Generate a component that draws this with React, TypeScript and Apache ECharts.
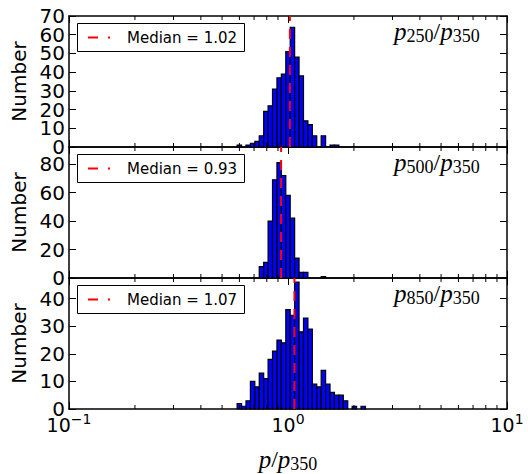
import React, { useEffect, useRef } from 'react';
import * as echarts from 'echarts';

// Histogram bins: np.logspace(-1, 1, 100) edges; bin 49 is centred on 1.0
const BIN_EDGE_COUNT = 100;
const CENTER_BIN = 49;

// counts per bin, starting at bin offset (relative to the bin centred on 1.0)
const panel1Start = -11;
const panel1Counts = [1, 0, 1, 2, 3, 6, 19, 22, 31, 37, 39, 51, 64, 48, 38, 14, 12, 6, 0, 6, 0, 1, 1];
const panel2Start = -6;
const panel2Counts = [8, 11, 40, 69, 81, 72, 58, 42, 14, 4, 4, 0, 0, 0, 1];
const panel3Start = -11;
const panel3Counts = [2, 1, 3, 10, 8, 13, 11, 18, 21, 25, 24, 36, 34, 46, 28, 33, 29, 9, 8, 14, 9, 6, 5, 5, 3, 0, 1, 0, 1];

const medians = [1.02, 0.93, 1.07];
const medianLabels = ['Median = 1.02', 'Median = 0.93', 'Median = 1.07'];
const ratioNumerators = ['250', '500', '850'];
const ratioDenominator = '350';
const yMaxes = [70, 92, 47.5];
const yIntervals = [10, 20, 10];
const ySplitLabels = [true, false, false]; // tightly packed labels drawn on two stacked axes
const minorTickValues = [0.2, 0.3, 0.4, 0.5, 0.6, 0.7, 0.8, 0.9, 2, 3, 4, 5, 6, 7, 8, 9];
const yAxisTitle = 'Number';

const GRID_LEFT = 69;
const GRID_WIDTH = 438;
const GRID_TOPS = [16, 147, 278];
const GRID_HEIGHT = 131;
const SANS = 'DejaVu Sans';
const SERIF = 'Liberation Serif';

const binEdge = (k: number) => Math.pow(10, -1 + (2 * k) / (BIN_EDGE_COUNT - 1));
const buildBins = (start: number, counts: number[]) =>
  counts.map((c, i) => {
    const k = CENTER_BIN + start + i;
    return [binEdge(k), binEdge(k + 1), c];
  });

const panels = [
  buildBins(panel1Start, panel1Counts),
  buildBins(panel2Start, panel2Counts),
  buildBins(panel3Start, panel3Counts),
];

const mathRich = {
  p: { fontFamily: SERIF, fontStyle: 'italic', fontSize: 25, lineHeight: 28, color: '#000', fill: '#000' },
  sl: { fontFamily: SERIF, fontSize: 24, lineHeight: 28, color: '#000', fill: '#000' },
  s: { fontFamily: SERIF, fontSize: 18, lineHeight: 18, verticalAlign: 'bottom', color: '#000', fill: '#000' },
};

const axisLineStyle = { show: true, onZero: false, lineStyle: { color: '#000', width: 1.5 } };
const tickStyle = { show: true, inside: true, length: 7, lineStyle: { color: '#000', width: 1 } };

export default function App() {
  const ref = useRef<HTMLDivElement>(null);
  useEffect(() => {
    if (!ref.current) return;
    const chart = echarts.init(ref.current, undefined, { renderer: 'svg' });
    const grid: any[] = [];
    const xAxis: any[] = [];
    const yAxis: any[] = [];
    const series: any[] = [];
    const graphic: any[] = [];

    panels.forEach((bins, i) => {
      const top = GRID_TOPS[i];
      const yMax = yMaxes[i];
      const step = yIntervals[i];
      grid.push({ left: GRID_LEFT, top, width: GRID_WIDTH, height: GRID_HEIGHT, containLabel: false });
      const isLast = i === panels.length - 1;
      const xIdx = xAxis.length;
      xAxis.push({
        type: 'log', logBase: 10, min: 0.1, max: 10, gridIndex: i, position: 'bottom',
        axisLine: axisLineStyle, axisTick: tickStyle, splitLine: { show: false },
        axisLabel: isLast
          ? {
              show: true, margin: 3, color: '#000', hideOverlap: false,
              formatter: (v: number) => {
                const e = Math.round(Math.log10(v));
                return `{b|10}{s|${e < 0 ? '\u2212' + -e : e}}`;
              },
              rich: {
                b: { fontFamily: SANS, fontSize: 19, lineHeight: 22, verticalAlign: 'bottom', color: '#000' },
                s: { fontFamily: SANS, fontSize: 14, lineHeight: 14, padding: [0, 0, 15, 0], verticalAlign: 'top', color: '#000' },
              },
            }
          : { show: false },
        name: isLast ? `{p|p}{sl|/}{p|p}{s|${ratioDenominator}}` : '',
        nameLocation: 'middle', nameGap: 36, nameTextStyle: { rich: mathRich },
      });
      xAxis.push({
        type: 'log', logBase: 10, min: 0.1, max: 10, gridIndex: i, position: 'top',
        axisLine: axisLineStyle, axisTick: tickStyle,
        axisLabel: { show: false }, splitLine: { show: false },
      });

      const labelStyle = { show: true, margin: 4, color: '#000', fontFamily: SANS, fontSize: 20, hideOverlap: false };
      const yIdx = yAxis.length;
      // main left axis: ticks, line, title and (every other when split) labels
      yAxis.push({
        type: 'value', min: 0, max: yMax, interval: step, gridIndex: i, position: 'left',
        axisLine: axisLineStyle, axisTick: tickStyle, splitLine: { show: false },
        axisLabel: {
          ...labelStyle, showMinLabel: true, showMaxLabel: i === 0,
          formatter: (v: number) => (ySplitLabels[i] && v % (2 * step) === 0 ? '' : `${v}`),
        },
        name: yAxisTitle, nameLocation: 'middle', nameGap: 38,
        nameTextStyle: { fontFamily: SANS, fontSize: 20, color: '#000' },
      });
      if (ySplitLabels[i]) {
        yAxis.push({
          type: 'value', min: 0, max: yMax, interval: 2 * step, gridIndex: i, position: 'left',
          axisLine: { show: false }, axisTick: { show: false }, splitLine: { show: false },
          axisLabel: { ...labelStyle, showMinLabel: true, showMaxLabel: false },
        });
      }
      yAxis.push({
        type: 'value', min: 0, max: yMax, interval: step, gridIndex: i, position: 'right',
        axisLine: axisLineStyle, axisTick: tickStyle,
        axisLabel: { show: false }, splitLine: { show: false },
      });

      series.push({
        type: 'custom', xAxisIndex: xIdx, yAxisIndex: yIdx, data: bins,
        encode: { x: [0, 1], y: 2 }, z: 2, silent: true,
        renderItem: (_p: any, api: any) => {
          const c = api.value(2);
          if (!c) return null;
          const a = api.coord([api.value(0), c]);
          const b = api.coord([api.value(1), 0]);
          return {
            type: 'rect',
            shape: { x: a[0], y: a[1], width: b[0] - a[0], height: b[1] - a[1] },
            style: { fill: '#0000ff', stroke: '#000', lineWidth: 1.2 },
          };
        },
      });
      series.push({
        type: 'custom', xAxisIndex: xIdx, yAxisIndex: yIdx,
        data: minorTickValues.map((v) => [v, 0]),
        encode: { x: 0, y: 1 }, z: 4, silent: true, clip: false,
        renderItem: (_p: any, api: any) => {
          const v = api.value(0);
          const b = api.coord([v, 0]);
          const t = api.coord([v, yMax]);
          return {
            type: 'group',
            children: [
              { type: 'line', shape: { x1: b[0], y1: b[1], x2: b[0], y2: b[1] - 4 }, style: { stroke: '#000', lineWidth: 1 } },
              { type: 'line', shape: { x1: t[0], y1: t[1], x2: t[0], y2: t[1] + 4 }, style: { stroke: '#000', lineWidth: 1 } },
            ],
          };
        },
      });
      series.push({
        type: 'line', name: medianLabels[i], xAxisIndex: xIdx, yAxisIndex: yIdx,
        data: [[medians[i], 0], [medians[i], yMax]],
        symbol: 'none', z: 5, silent: true,
        lineStyle: { color: '#ff0000', width: 2, type: [10, 8] },
      });

      const ly = top + 7.5;
      graphic.push(
        { type: 'rect', z: 100, shape: { x: 77.5, y: ly, width: 167, height: 28 }, style: { fill: '#fff', stroke: '#000', lineWidth: 1 } },
        { type: 'line', z: 101, shape: { x1: 88, y1: ly + 14, x2: 110, y2: ly + 14 }, style: { stroke: '#ff0000', lineWidth: 2, lineDash: [10, 10] } },
        { type: 'text', z: 101, x: 127, y: ly + 14, style: { text: medianLabels[i], fontFamily: SANS, fontSize: 15, fill: '#000', verticalAlign: 'middle' } },
        {
          type: 'text', z: 101, x: 394, y: top + 1,
          style: {
            text: `{p|p}{s|${ratioNumerators[i]}}{sl|/}{p|p}{s|${ratioDenominator}}`,
            rich: mathRich, verticalAlign: 'top', fill: '#000',
          },
        },
      );
    });

    chart.setOption({
      animation: false,
      backgroundColor: '#fff',
      grid, xAxis, yAxis, series, graphic,
    });
    return () => chart.dispose();
  }, []);
  return <div ref={ref} style={{ position: 'fixed', left: 0, top: 0, width: 528, height: 474 }} />;
}
